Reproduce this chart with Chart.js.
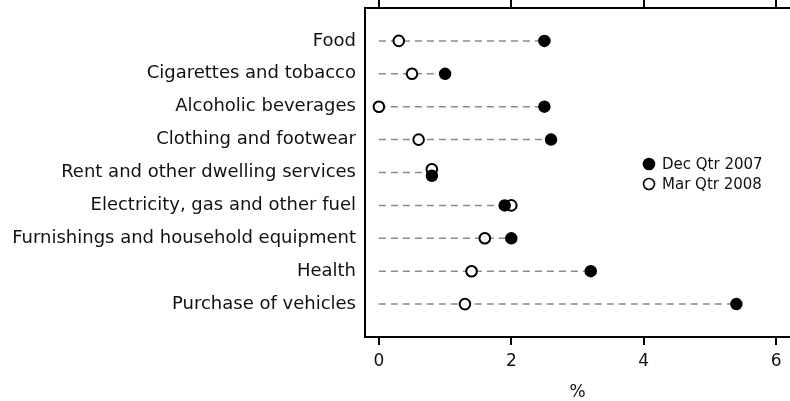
<!DOCTYPE html>
<html>
<head>
<meta charset="utf-8">
<script src="https://cdn.jsdelivr.net/npm/chart.js@4/dist/chart.umd.min.js"></script>
<style>
  html, body { margin: 0; padding: 0; background: #fff; }
  #wrap { width: 790px; height: 401px; }
</style>
</head>
<body>
<div id="wrap"><canvas id="cpiChart"></canvas></div>
<script>
// Contribution to price change by group, %
const categories = [
  'Food',
  'Cigarettes and tobacco',
  'Alcoholic beverages',
  'Clothing and footwear',
  'Rent and other dwelling services',
  'Electricity, gas and other fuel',
  'Furnishings and household equipment',
  'Health',
  'Purchase of vehicles'
];
const decQtr2007 = [2.5, 1.0, 2.5, 2.6, 0.8, 1.9, 2.0, 3.2, 5.4];
const marQtr2008 = [0.3, 0.5, 0.0, 0.6, 0.8, 2.0, 1.6, 1.4, 1.3];
// small vertical nudge where the two markers coincide
const tieNudge = [0, 0, 0, 0, 0.1, 0, 0, 0, 0];
const xTickValues = [0, 2, 4, 6];
const seriesLabels = ['Dec Qtr 2007', 'Mar Qtr 2008'];

const FONT = 'DejaVu Sans';
const INK = '#111';

const rows = categories.map((c, i) => i + 1);

// grey dashed guide from 0 to the larger value of each row
const guides = rows.map((r, i) => ({
  type: 'line',
  label: '',
  data: [{ x: 0, y: r }, { x: Math.max(decQtr2007[i], marQtr2008[i]), y: r }],
  borderColor: '#8c8c8c',
  borderWidth: 1.5,
  borderDash: [7, 5],
  pointRadius: 0,
  order: 10
}));

const decSet = {
  type: 'scatter',
  label: seriesLabels[0],
  data: rows.map((r, i) => ({ x: decQtr2007[i], y: r + tieNudge[i] })),
  backgroundColor: '#000',
  borderColor: '#000',
  borderWidth: 1.5,
  pointRadius: 5.5,
  order: 1
};
const marSet = {
  type: 'scatter',
  label: seriesLabels[1],
  data: rows.map((r, i) => ({ x: marQtr2008[i], y: r - tieNudge[i] })),
  backgroundColor: '#fff',
  borderColor: '#000',
  borderWidth: 2,
  pointRadius: 5.3,
  order: 2
};

// legend drawn inside the plot, upper right
const innerLegend = {
  id: 'innerLegend',
  afterDatasetsDraw(chart) {
    const ctx = chart.ctx;
    const a = chart.chartArea;
    const x = a.right - 141;
    const y0 = a.top + 156;
    [decSet, marSet].forEach((ds, k) => {
      const y = y0 + k * 20;
      ctx.save();
      ctx.beginPath();
      ctx.arc(x, y, 5.5, 0, Math.PI * 2);
      ctx.fillStyle = ds.backgroundColor;
      ctx.fill();
      ctx.lineWidth = 1.6;
      ctx.strokeStyle = ds.borderColor;
      ctx.stroke();
      ctx.fillStyle = INK;
      ctx.font = '15px "' + FONT + '"';
      ctx.textBaseline = 'middle';
      ctx.textAlign = 'left';
      ctx.fillText(ds.label, x + 13, y + 1);
      ctx.restore();
    });
  }
};

// the frame is open on the right (cropped figure): keep that edge clear
const openRight = {
  id: 'openRight',
  afterDraw(chart) {
    const a = chart.chartArea;
    const c = chart.ctx;
    c.save();
    c.fillStyle = '#fff';
    c.fillRect(a.right - 3, a.top + 2, 4, a.bottom - a.top - 4);
    c.restore();
  }
};

// drop the label overhang padding so the frame sits where it should
const noPad = s => { s.paddingTop = 0; s.paddingBottom = 0; s.paddingLeft = 0; s.paddingRight = 0; };

const ctx = document.getElementById('cpiChart').getContext('2d');
new Chart(ctx, {
  data: { datasets: [decSet, marSet, ...guides] },
  options: {
    responsive: true,
    maintainAspectRatio: false,
    animation: false,
    layout: { padding: 0, autoPadding: false },
    plugins: {
      legend: { display: false },
      tooltip: { enabled: false }
    },
    scales: {
      x: {
        type: 'linear',
        position: 'bottom',
        min: -0.21,
        max: 6.21,
        afterBuildTicks: s => { s.ticks = xTickValues.map(v => ({ value: v })); },
        afterFit: s => { s.height = 64; noPad(s); },
        grid: { drawOnChartArea: false, drawTicks: true, tickLength: 8, color: '#000', lineWidth: 2 },
        border: { display: true, color: '#000', width: 2 },
        ticks: { color: INK, font: { family: FONT, size: 17 }, padding: 6 },
        title: { display: true, text: '%', color: INK, font: { family: FONT, size: 17, lineHeight: 1 }, padding: 0 }
      },
      xTop: {
        type: 'linear',
        position: 'top',
        min: -0.21,
        max: 6.21,
        afterBuildTicks: s => { s.ticks = xTickValues.map(v => ({ value: v })); },
        afterFit: s => { s.height = 8; noPad(s); },
        grid: { drawOnChartArea: false, drawTicks: true, tickLength: 8, color: '#000', lineWidth: 2 },
        border: { display: true, color: '#000', width: 2 },
        ticks: { display: false }
      },
      y: {
        type: 'linear',
        position: 'left',
        reverse: true,
        min: 0,
        max: 10,
        afterBuildTicks: s => { s.ticks = rows.map(v => ({ value: v })); },
        afterFit: s => { s.width = 365; noPad(s); },
        grid: { display: true, drawOnChartArea: false, drawTicks: false },
        border: { display: true, color: '#000', width: 2 },
        ticks: {
          color: INK,
          font: { family: FONT, size: 18 },
          padding: 9,
          callback: v => categories[v - 1] || ''
        }
      }
    }
  },
  plugins: [innerLegend, openRight]
});
</script>
</body>
</html>
